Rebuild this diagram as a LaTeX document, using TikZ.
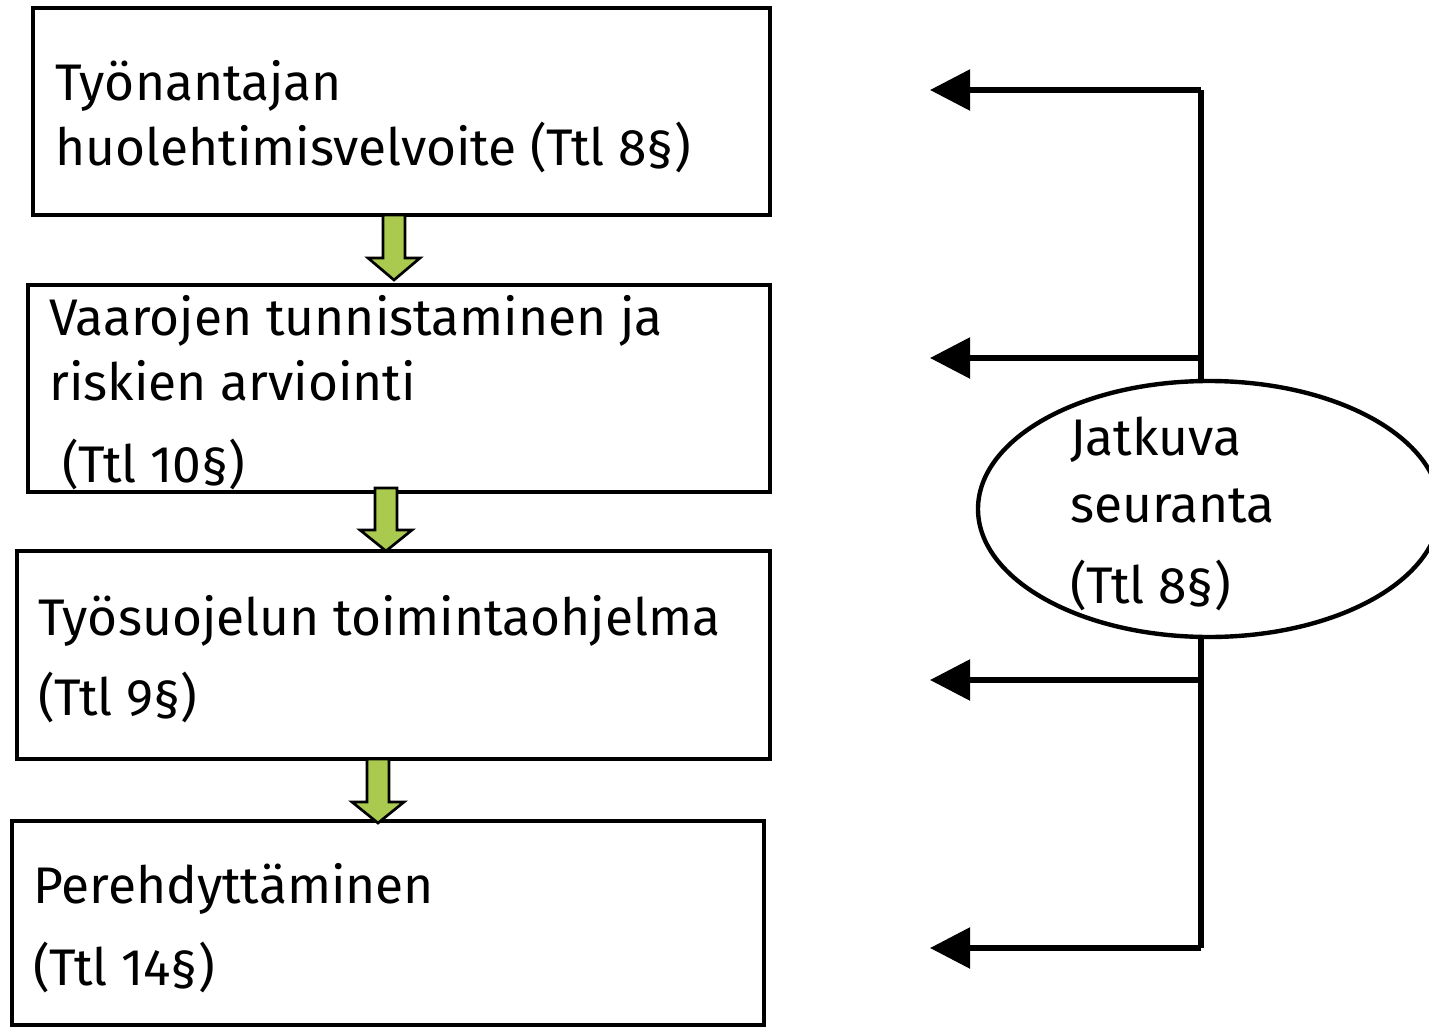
\documentclass[tikz,border=0pt]{standalone}
\usepackage{fontspec}
\setmainfont{Fira Sans}
\usetikzlibrary{shapes.geometric,arrows.meta}
\definecolor{arrowgreen}{RGB}{169,201,79}
\tikzset{
  box/.style={draw=black,line width=3pt,rectangle,inner sep=0pt},
  lbl/.style={anchor=base west,inner sep=0pt,font=\fontsize{38.6}{46}\selectfont},
  garrow/.style={fill=arrowgreen,draw=black,line width=2pt,line join=miter},
  link/.style={line width=4.2pt},
  fb/.style={line width=4.2pt,-{Triangle[length=30pt,width=30pt]}},
}
\begin{document}
\begin{tikzpicture}[x=0.75pt,y=-0.75pt]
\useasboundingbox (0,0) rectangle (1429,1028);
% boxes
\node[box,minimum width=737*0.75pt,minimum height=207*0.75pt] (b1) at (401.5,111.5) {};
\node[box,minimum width=742*0.75pt,minimum height=207*0.75pt] (b2) at (399,388.5) {};
\node[box,minimum width=753*0.75pt,minimum height=208*0.75pt] (b3) at (393.5,655) {};
\node[box,minimum width=752*0.75pt,minimum height=204*0.75pt] (b4) at (388,923) {};
% texts
\node[lbl] (t1a) at (55,100) {Työnantajan};
\node[lbl] (t1b) at (55,165) {huolehtimisvelvoite (Ttl 8§)};
\node[lbl] (t2a) at (49,335) {Vaarojen tunnistaminen ja};
\node[lbl] (t2b) at (49,400) {riskien arviointi};
\node[lbl] (t2c) at (62,482) {(Ttl 10§)};
\node[lbl] (t3a) at (38,635) {Työsuojelun toimintaohjelma};
\node[lbl] (t3b) at (38,715) {(Ttl 9§)};
\node[lbl] (t4a) at (33,903) {Perehdyttäminen};
\node[lbl] (t4b) at (33,985) {(Ttl 14§)};
% green arrows
\draw[garrow] (383,215) -- (405,215) -- (405,258) -- (420,258) -- (394,280) -- (368,258) -- (383,258) -- cycle;
\draw[garrow] (375,488) -- (397,488) -- (397,530) -- (412,530) -- (386,551) -- (360,530) -- (375,530) -- cycle;
\draw[garrow] (367,759) -- (389,759) -- (389,802) -- (404,802) -- (378,823) -- (352,802) -- (367,802) -- cycle;
% feedback structure
\begin{scope}
\clip (0,0) rectangle (1429,1028);
\node[draw,ellipse,line width=3.3pt,minimum width=462*0.75pt,minimum height=256*0.75pt,inner sep=0pt] (e) at (1209,509) {};
\end{scope}
\node[lbl] (et1) at (1070,455) {Jatkuva};
\node[lbl] (et2) at (1070,522) {seuranta};
\node[lbl] (et3) at (1070,603) {(Ttl 8§)};
\coordinate (c1) at (1201,90);
\coordinate (c2) at (1201,358);
\coordinate (c3) at (1201,680);
\coordinate (c4) at (1201,948);
\coordinate (a1) at (930,90);
\coordinate (a2) at (930,358);
\coordinate (a3) at (930,680);
\coordinate (a4) at (930,948);
\draw[link] (c1) -- (c2 |- e.north);
\draw[link] (c3 |- e.south) -- (c4);
\draw[fb] (c1) -- (a1);
\draw[fb] (c2) -- (a2);
\draw[fb] (c3) -- (a3);
\draw[fb] (c4) -- (a4);
\end{tikzpicture}
\end{document}
